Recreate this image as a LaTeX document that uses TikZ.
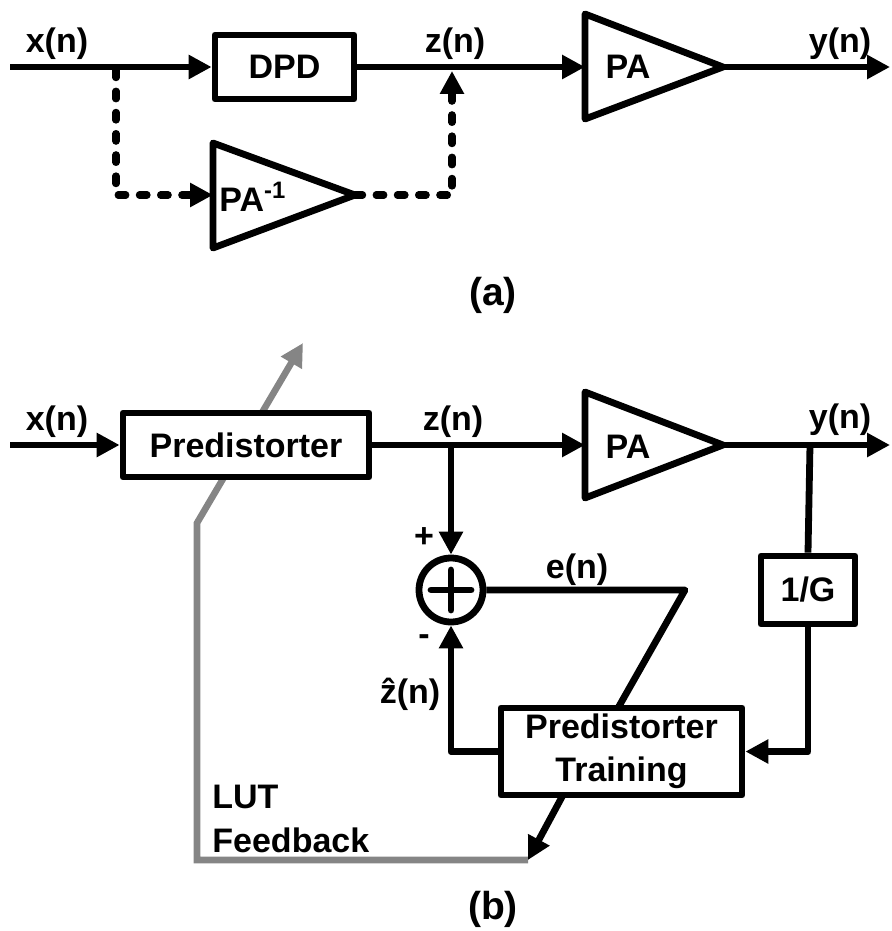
\documentclass[tikz,border=0pt]{standalone}
\usepackage{fontspec}
\setmainfont{Liberation Sans}
\usetikzlibrary{arrows.meta}
\definecolor{lutgray}{HTML}{858585}
\begin{document}
\begin{tikzpicture}[x=0.5pt,y=-0.5pt,line join=round,
  tip/.style={-{Triangle[length=11.5pt,width=11.5pt]}},
  wire/.style={line width=3.4pt},
  arr/.style={wire,tip},
  dsh/.style={line width=3.6pt,line cap=round,dash pattern=on 3.8pt off 6.8pt},
  gry/.style={draw=lutgray,line width=3.3pt,line join=miter},
  blk/.style={draw,line width=3.4pt,fill=white,inner sep=0pt,align=center,
    font=\fontsize{17}{21.5}\selectfont\bfseries},
  lbl/.style={inner sep=0pt,font=\fontsize{17}{20}\selectfont\bfseries},
  figcap/.style={inner sep=0pt,font=\fontsize{19.5}{22}\selectfont\bfseries},
  amp/.style={draw,line width=3.4pt,line join=round}
]
\useasboundingbox (0,0) rectangle (892,931);

% ---------------- (a) ----------------
\node[blk,minimum width=69.5pt,minimum height=32pt] (dpd) at (284.5,67) {DPD};
\draw[amp] (585,14) -- (723,67) -- (585,119) -- cycle;
\coordinate (paain) at (585,67);
\coordinate (paaout) at (723,67);
\draw[amp] (213,143) -- (355,195) -- (213,248) -- cycle;
\coordinate (pinvin) at (213,195);
\coordinate (pinvout) at (355,195);
\coordinate (xa) at (10,67);
\coordinate (ya) at (890,67);
\coordinate (bra) at (116,70);
\coordinate (zjoin) at (452,71);

\draw[arr] (xa) -- (dpd.west);
\draw[arr] (dpd.east) -- (paain);
\draw[arr] (paaout) -- (ya);
\draw[dsh,tip] (bra) |- (pinvin);
\draw[dsh,tip] (pinvout) -| (zjoin);

\node[lbl,anchor=base] (lxa) at (57,53) {x(n)};
\node[lbl,anchor=base] (lza) at (455,53) {z(n)};
\node[lbl,anchor=base] (lya) at (840,53) {y(n)};
\node[lbl] (tpa) at (628,67) {PA};
\node[lbl,anchor=base west] (tpinv) at (219,211) {PA\textsuperscript{-1}};
\node[figcap,anchor=base] (capa) at (493,305) {(a)};

% ---------------- (b) ----------------
\coordinate (fb) at (528,860);
\coordinate (fbc) at (197,860);
\coordinate (fbb) at (197,523);
\coordinate (fbtip) at (303,343);
\draw[gry,tip] (fb) -- (fbc) -- (fbb) -- (fbtip);

\node[blk,minimum width=123pt,minimum height=32pt] (pred) at (246,445) {Predistorter};
\draw[amp] (585,392) -- (723,445) -- (585,498) -- cycle;
\coordinate (pabin) at (585,445);
\coordinate (pabout) at (723,445);
\node[blk,minimum width=47pt,minimum height=34pt] (g) at (808,590) {1/G};
\node[blk,minimum width=120.5pt,minimum height=43.5pt] (trn) at (621.5,751.5) {Predistorter\\Training};
\node[draw,circle,line width=3.4pt,minimum size=32pt,inner sep=0pt] (sum) at (451,590) {};
\draw[wire,line cap=round] ([xshift=-10pt]sum.center) -- ([xshift=10pt]sum.center);
\draw[wire,line cap=round] ([yshift=-10pt]sum.center) -- ([yshift=10pt]sum.center);

\coordinate (xb) at (10,445);
\coordinate (yb) at (890,445);
\coordinate (zbr) at (451,445);
\coordinate (ybr) at (810,445);
\coordinate (ecorner) at (685,590);
\coordinate (etop) at (618,708);
\coordinate (tbot) at (563,795);

\draw[arr] (xb) -- (pred.west);
\draw[arr] (pred.east) -- (pabin);
\draw[arr] (pabout) -- (yb);
\draw[arr] (zbr) -- (sum.north);
\draw[wire] (ybr) -- (g.north);
\draw[arr] (g.south) |- (trn.east);
\draw[arr] (trn.west) -| (sum.south);
\draw[wire] (sum.east) -- (ecorner) -- (etop);
\draw[arr] (tbot) -- (fb);

\node[lbl,anchor=base] (lxb) at (57,430) {x(n)};
\node[lbl,anchor=base] (lzb) at (453,430) {z(n)};
\node[lbl,anchor=base] (lyb) at (840,428) {y(n)};
\node[lbl] (tpab) at (628,447) {PA};
\node[lbl] (lplus) at (424,538) {+};
\node[lbl] (lminus) at (424,640) {-};
\node[lbl,anchor=base] (le) at (577,578) {e(n)};
\node[lbl,anchor=base] (lzh) at (410,703) {\^{z}(n)};
\node[lbl,anchor=base west] (llut) at (212,808) {LUT};
\node[lbl,anchor=base west] (lfb) at (212,852) {Feedback};
\node[figcap,anchor=base] (capb) at (493,919) {(b)};
\end{tikzpicture}
\end{document}
